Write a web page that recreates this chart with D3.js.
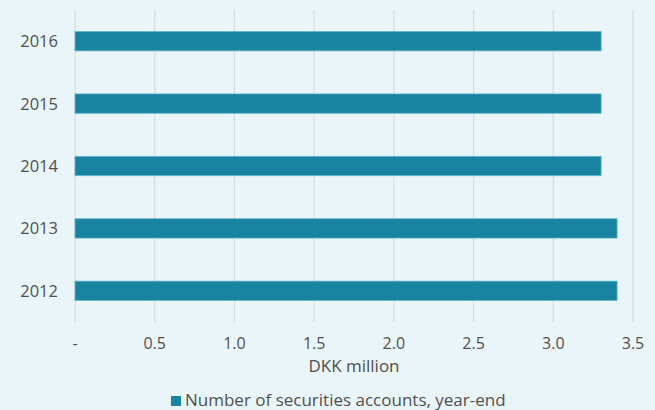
<!DOCTYPE html>
<html>
<head>
<meta charset="utf-8">
<script src="https://cdn.jsdelivr.net/npm/d3@7"></script>
<style>
  html, body { margin: 0; padding: 0; background: #e9f5f9; }
  svg { display: block; font-family: "Open Sans", Lato, sans-serif; }
</style>
</head>
<body>
<svg id="chart" width="655" height="410"></svg>
<script>
// Securities accounts at year-end, DKK million
const years = ["2016", "2015", "2014", "2013", "2012"];
const accounts = [3.3, 3.3, 3.3, 3.4, 3.4];
const xTicks = [0, 0.5, 1.0, 1.5, 2.0, 2.5, 3.0, 3.5];
const xTickLabels = ["-", "0.5", "1.0", "1.5", "2.0", "2.5", "3.0", "3.5"];
const seriesName = "Number of securities accounts, year-end";
const axisTitle = "DKK million";

const svg = d3.select("#chart");
const W = 655, H = 410;
const m = { left: 75, right: 22, top: 10, bottom: 88 };

svg.append("rect").attr("width", W).attr("height", H).attr("fill", "#e9f5f9");

const x = d3.scaleLinear().domain([0, 3.5]).range([m.left, 633]);
const y = d3.scaleBand().domain(years).range([m.top, 322]).paddingInner(0.69).paddingOuter(0.345);

// vertical gridlines
svg.append("g").selectAll("line").data(xTicks).join("line")
  .attr("x1", d => x(d)).attr("x2", d => x(d))
  .attr("y1", m.top).attr("y2", 322)
  .attr("stroke", "#d6dcdd").attr("stroke-width", 1.2);

// bars
svg.append("g").selectAll("rect").data(years).join("rect")
  .attr("x", x(0))
  .attr("y", d => y(d))
  .attr("width", (d, i) => x(accounts[i]) - x(0))
  .attr("height", y.bandwidth())
  .attr("fill", "#19849f")
  .attr("stroke", "#63b6cc")
  .attr("stroke-width", 0.8);

// category labels
svg.append("g").selectAll("text").data(years).join("text")
  .attr("x", 58)
  .attr("y", d => y(d) + y.bandwidth() / 2)
  .attr("dy", "0.36em")
  .attr("text-anchor", "end")
  .attr("fill", "#505050")
  .attr("font-size", 16.5)
  .text(d => d);

// x tick labels
svg.append("g").selectAll("text").data(xTicks).join("text")
  .attr("x", d => x(d))
  .attr("y", 349)
  .attr("text-anchor", "middle")
  .attr("fill", "#505050")
  .attr("font-size", 16)
  .text((d, i) => xTickLabels[i]);

svg.append("text")
  .attr("x", x(1.75))
  .attr("y", 372)
  .attr("text-anchor", "middle")
  .attr("fill", "#505050")
  .attr("font-size", 17)
  .text(axisTitle);

// legend
const lg = svg.append("g").attr("transform", "translate(171,396)");
lg.append("rect").attr("x", 0).attr("y", 0).attr("width", 10).attr("height", 10).attr("fill", "#19849f");
lg.append("text").attr("x", 14).attr("y", 9.5).attr("fill", "#505050").attr("font-size", 17).text(seriesName);
</script>
</body>
</html>
